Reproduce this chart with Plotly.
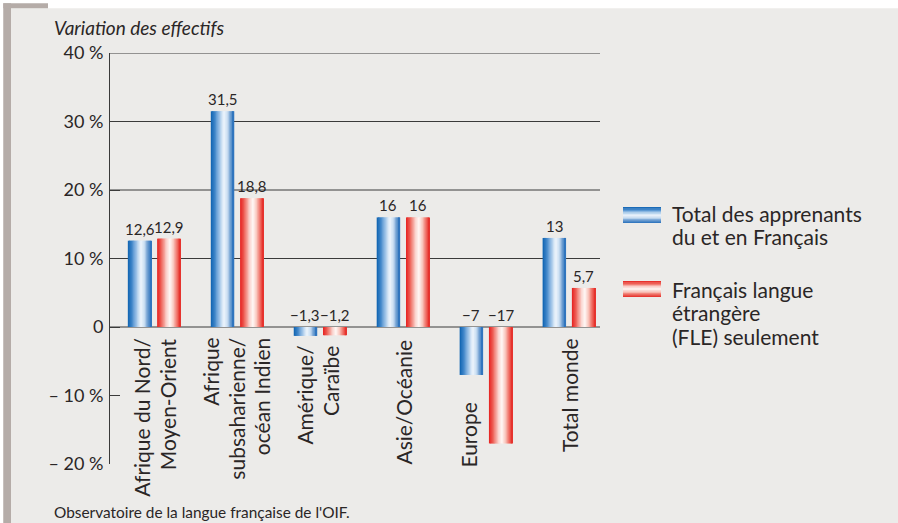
import plotly.graph_objects as go

# ---------------- data ----------------
categories = [
    "Afrique du Nord/<br>Moyen-Orient",
    "Afrique<br>subsaharienne/<br>océan Indien",
    "Amérique/<br>Caraïbe",
    "Asie/Océanie",
    "Europe",
    "Total monde",
]
total_apprenants = [12.6, 31.5, -1.3, 16, -7, 13]
fle_seulement = [12.9, 18.8, -1.2, 16, -17, 5.7]
series_names = ["Total des apprenants<br>du et en Français",
                "Français langue<br>étrangère<br>(FLE) seulement"]
y_tickvals = [-20, -10, 0, 10, 20, 30, 40]
y_ticktext = ["– 20 %", "– 10 %", "0", "10 %", "20 %", "30 %", "40 %"]
title_text = "Variation des effectifs"
source_text = "Observatoire de la langue française de l'OIF."

# ---------------- style ----------------
FONT = "Lato"
TXT = "#2a2626"
BG = "#ecebe9"
GRID = "#3a3a3a"

W_PX, H_PX = 898, 523
L, R, T, B = 110, 600, 53, 464


def px(x):
    return (x - L) / (R - L)


def py(y):
    return (B - y) / (B - T)


blue_stops = [(0.0, (14, 98, 176)), (0.15, (55, 128, 198)), (0.35, (150, 190, 230)),
              (0.55, (240, 246, 252)), (0.7, (205, 224, 243)), (0.85, (105, 155, 208)),
              (1.0, (35, 108, 186))]
red_stops = [(0.0, (230, 30, 28)), (0.18, (238, 100, 90)), (0.4, (250, 210, 204)),
             (0.55, (255, 250, 248)), (0.72, (248, 190, 180)), (0.88, (238, 95, 85)),
             (1.0, (228, 38, 34))]


def interp(stops, t):
    for (p0, c0), (p1, c1) in zip(stops[:-1], stops[1:]):
        if p0 <= t <= p1:
            f = (t - p0) / (p1 - p0) if p1 > p0 else 0
            c = [round(a + (b - a) * f) for a, b in zip(c0, c1)]
            return f"rgb({c[0]},{c[1]},{c[2]})"
    c = stops[-1][1]
    return f"rgb({c[0]},{c[1]},{c[2]})"


def fmt(v):
    s = f"{abs(v):g}".replace(".", ",")
    return ("−" + s) if v < 0 else s


bar_w = 0.283
offsets = [-0.318, 0.035]
N = 18
dw = bar_w / N

fig = go.Figure()

for vals, stops, off in [(total_apprenants, blue_stops, offsets[0]),
                         (fle_seulement, red_stops, offsets[1])]:
    for k in range(N):
        fig.add_trace(go.Bar(
            x=categories, y=vals,
            width=dw * 1.7 if k < N - 1 else dw,
            offset=off + k * dw,
            marker=dict(color=interp(stops, (k + 0.5) / N), line=dict(width=0)),
            showlegend=False, hoverinfo="skip",
        ))

annotations = []
for vals, off in [(total_apprenants, offsets[0]), (fle_seulement, offsets[1])]:
    for i, v in enumerate(vals):
        annotations.append(dict(
            x=i + off + bar_w / 2, y=max(v, 0), xref="x", yref="y",
            text=fmt(v), showarrow=False, yanchor="bottom", yshift=1,
            font=dict(family=FONT, size=15, color=TXT),
        ))

# category labels (rotated, placed individually as in the original layout)
label_dx = [0, -1.5, -3, 0, -18, 0]       # px shift of the label block
label_top = [335, 335, 343, 337, 400, 335]  # px top of label
LINE_SP = 26
for i, cat in enumerate(categories):
    lines = cat.split("<br>")
    n = len(lines)
    for j, ln in enumerate(lines):
        annotations.append(dict(
            x=i, y=0, xref="x", yref="y", text=ln, showarrow=False,
            textangle=-90, xanchor="center", yanchor="top",
            xshift=label_dx[i] + (j - (n - 1) / 2) * LINE_SP,
            yshift=326 - label_top[i],
            font=dict(family=FONT, size=21, color=TXT),
        ))

# title and source
annotations.append(dict(x=px(52), y=py(28), xref="paper", yref="paper", text=f"<i>{title_text}</i>",
                        showarrow=False, xanchor="left", yanchor="middle",
                        font=dict(family=FONT, size=19, color=TXT)))
annotations.append(dict(x=px(52), y=py(512), xref="paper", yref="paper", text=source_text,
                        showarrow=False, xanchor="left", yanchor="middle",
                        font=dict(family=FONT, size=15.4, color=TXT)))

# legend text (one annotation per line)
LEG_SP = 23.5
for name, first_mid in [(series_names[0], 213), (series_names[1], 289)]:
    for j, ln in enumerate(name.split("<br>")):
        annotations.append(dict(x=px(670), y=py(first_mid + j * LEG_SP), xref="paper", yref="paper",
                                text=ln, showarrow=False, xanchor="left", yanchor="middle",
                                font=dict(family=FONT, size=21, color=TXT)))

shapes = []
# page frame
shapes.append(dict(type="rect", xref="paper", yref="paper", x0=px(0), x1=px(W_PX), y0=py(8.3), y1=py(0),
                   fillcolor="white", line=dict(width=0), layer="below"))
shapes.append(dict(type="rect", xref="paper", yref="paper", x0=px(0), x1=px(3.3), y0=py(H_PX), y1=py(0),
                   fillcolor="white", line=dict(width=0), layer="below"))
shapes.append(dict(type="rect", xref="paper", yref="paper", x0=px(3.3), x1=px(11), y0=py(H_PX), y1=py(3.3),
                   fillcolor="#b5aca8", line=dict(width=0), layer="below"))
shapes.append(dict(type="rect", xref="paper", yref="paper", x0=px(3.3), x1=px(48), y0=py(8.3), y1=py(3.3),
                   fillcolor="#b5aca8", line=dict(width=0), layer="below"))

# gridlines (non-negative ticks)
for v in y_tickvals:
    if v >= 0:
        shapes.append(dict(type="line", xref="paper", yref="y", x0=0, x1=1, y0=v, y1=v,
                           line=dict(color=GRID, width=1), layer="below"))

# legend swatches (vertical gradient strips)
M = 12
for stops, top in [(blue_stops, 207), (red_stops, 281)]:
    h = 16.0
    for k in range(M):
        t = (k + 0.5) / M
        tt = 0.55 * (1 - abs(2 * t - 1)) if t <= 0.5 else 0.55 + 0.45 * (2 * t - 1)
        y0 = top + k * h / M
        y1 = top + (k + 1) * h / M + (0.4 if k < M - 1 else 0)
        shapes.append(dict(type="rect", xref="paper", yref="paper", x0=px(623), x1=px(661),
                           y0=py(y1), y1=py(y0), fillcolor=interp(stops, tt), line=dict(width=0)))

fig.update_layout(
    width=W_PX, height=H_PX,
    margin=dict(l=L, r=W_PX - R, t=T, b=H_PX - B, pad=0),
    paper_bgcolor=BG, plot_bgcolor="rgba(0,0,0,0)",
    barmode="overlay", showlegend=False,
    font=dict(family=FONT, color=TXT),
    shapes=shapes, annotations=annotations,
    xaxis=dict(type="category", range=[-0.533, 5.374],
               showline=False, showgrid=False, zeroline=False, ticks="",
               showticklabels=False),
    yaxis=dict(range=[-20, 40], showgrid=False, zeroline=False, showline=True,
               linecolor=GRID, linewidth=1, ticks="inside", ticklen=10, tickcolor=GRID,
               tickvals=y_tickvals, ticktext=y_ticktext,
               tickfont=dict(family=FONT, size=18, color=TXT), ticklabelstandoff=2),
)

fig.write_html("out.html", config={"displayModeBar": False},
               post_script="document.body.style.margin='0';")
